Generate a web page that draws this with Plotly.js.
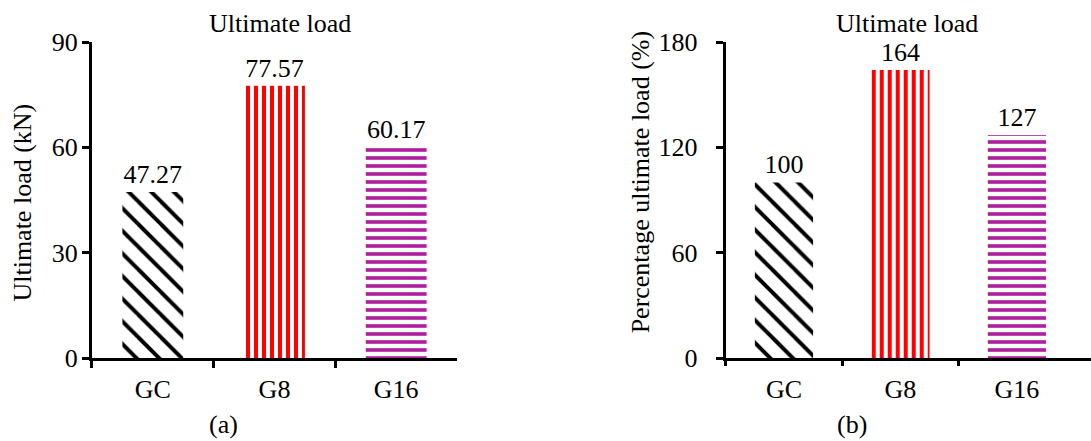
<!DOCTYPE html>
<html>
<head>
<meta charset="utf-8">
<script src="https://cdn.plot.ly/plotly-3.0.1.min.js"></script>
<style>html,body{margin:0;padding:0;background:#fff;}#chart{width:1091px;height:441px;}</style>
</head>
<body>
<div id="chart"></div>
<script>
const categories = ["GC", "G8", "G16"];
const ultimateLoad = [47.27, 77.57, 60.17];
const ultimateLoadLabels = ["47.27", "77.57", "60.17"];
const percentLoad = [100, 164, 127];
const percentLoadLabels = ["100", "164", "127"];
const loadTicks = [0, 30, 60, 90];
const percentTicks = [0, 60, 120, 180];

const FONT = "'Liberation Serif', 'Times New Roman', Times, serif";
const patterns = {
  shape: ["\\", "|", "-"],
  fgcolor: ["#000000", "#FF0000", "#AE1F9E"],
  bgcolor: ["#FFFFFF", "#FFFFFF", "#FFFFFF"],
  size: [16, 8, 8],
  solidity: [0.25, 0.5, 0.45],
  fillmode: "replace"
};

const barCommon = {
  type: "bar",
  x: categories,
  width: 0.5,
  textposition: "outside",
  cliponaxis: false,
  textfont: {family: FONT, size: 26, color: "#000"},
  marker: {color: "#FFFFFF", line: {width: 0}, pattern: patterns},
  hoverinfo: "x+y",
  showlegend: false
};

const traces = [
  Object.assign({}, barCommon, {y: ultimateLoad, text: ultimateLoadLabels, xaxis: "x", yaxis: "y"}),
  Object.assign({}, barCommon, {y: percentLoad, text: percentLoadLabels, xaxis: "x2", yaxis: "y2"}),
  // invisible helper to carry the boundary ticks of the right panel
  {type: "scatter", x: [0], y: [0], xaxis: "x3", yaxis: "y2", mode: "markers",
   marker: {opacity: 0}, hoverinfo: "skip", showlegend: false}
];

const xCommon = {
  type: "category",
  showline: true, linewidth: 3, linecolor: "#000",
  ticks: "outside", ticklen: 7, tickwidth: 3, tickcolor: "#000",
  tickson: "boundaries",
  showgrid: false, zeroline: false,
  tickfont: {family: FONT, size: 26, color: "#000"},
  ticklabelstandoff: 6,
  fixedrange: true
};
const yCommon = {
  showline: true, linewidth: 3, linecolor: "#000",
  ticks: "outside", ticklen: 7, tickwidth: 3, tickcolor: "#000",
  showgrid: false, zeroline: false,
  tickfont: {family: FONT, size: 26, color: "#000"},
  fixedrange: true
};

const layout = {
  width: 1091, height: 441,
  margin: {l: 0, r: 0, t: 42, b: 83},
  paper_bgcolor: "#fff", plot_bgcolor: "#fff",
  font: {family: FONT, size: 26, color: "#000"},
  xaxis: Object.assign({}, xCommon, {domain: [0.0843, 0.4189], range: [-0.5, 2.5], anchor: "y"}),
  yaxis: Object.assign({}, yCommon, {domain: [0, 1], range: [0, 90], tickvals: loadTicks, anchor: "x", ticklabelstandoff: -1}),
  xaxis2: Object.assign({}, xCommon, {domain: [0.6652, 1], range: [-0.5, 2.636], anchor: "y2", ticks: ""}),
  xaxis3: {overlaying: "x2", anchor: "y2", type: "linear", range: [-0.5, 2.636],
           tickvals: [-0.5, 0.5, 1.5], ticks: "outside", ticklen: 7, tickwidth: 3, tickcolor: "#000",
           showticklabels: false, showgrid: false, zeroline: false, showline: false, fixedrange: true},
  yaxis2: Object.assign({}, yCommon, {domain: [0, 1], range: [0, 180], tickvals: percentTicks, anchor: "x2", ticklabelstandoff: 13}),
  annotations: [
    {text: "Ultimate load", xref: "paper", yref: "paper", x: 0.2566, y: 1.06, xanchor: "center", yanchor: "middle", showarrow: false, font: {family: FONT, size: 26, color: "#000"}},
    {text: "Ultimate load", xref: "paper", yref: "paper", x: 0.831, y: 1.06, xanchor: "center", yanchor: "middle", showarrow: false, font: {family: FONT, size: 26, color: "#000"}},
    {text: "Ultimate load (kN)", xref: "paper", yref: "paper", x: 0.0202, y: 0.492, textangle: -90, xanchor: "center", yanchor: "middle", showarrow: false, font: {family: FONT, size: 26, color: "#000"}},
    {text: "Percentage ultimate load (%)", xref: "paper", yref: "paper", x: 0.5873, y: 0.555, textangle: -90, xanchor: "center", yanchor: "middle", showarrow: false, font: {family: FONT, size: 26, color: "#000"}},
    {text: "(a)", xref: "paper", yref: "paper", x: 0.205, y: -0.21, xanchor: "center", yanchor: "middle", showarrow: false, font: {family: FONT, size: 26, color: "#000"}},
    {text: "(b)", xref: "paper", yref: "paper", x: 0.7806, y: -0.21, xanchor: "center", yanchor: "middle", showarrow: false, font: {family: FONT, size: 26, color: "#000"}}
  ]
};

Plotly.newPlot("chart", traces, layout, {displayModeBar: false, staticPlot: true});
</script>
</body>
</html>
